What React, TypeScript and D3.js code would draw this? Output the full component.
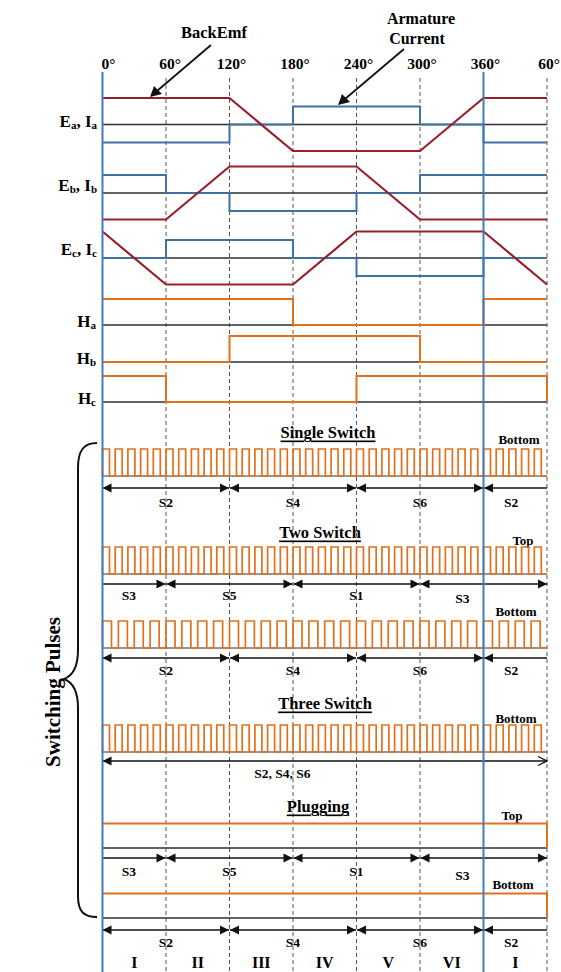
import * as d3 from "d3";

// angle axis
const degreeTicks = [0, 60, 120, 180, 240, 300, 360, 420];
const degreeLabels = ["0°", "60°", "120°", "180°", "240°", "300°", "360°", "60°"];
const solidAngles = [0, 360];
const dashedAngles = [60, 120, 180, 240, 300, 420];

// back emf (trapezoid) and armature current (quasi-square), per phase
const emfA: [number, number][] = [[0, 1], [120, 1], [180, -1], [300, -1], [360, 1], [420, 1]];
const curA: [number, number][] = [[0, -1], [120, -1], [120, 0], [180, 0], [180, 1], [300, 1], [300, 0], [360, 0], [360, -1], [420, -1]];
const emfB: [number, number][] = [[0, -1], [60, -1], [120, 1], [240, 1], [300, -1], [420, -1]];
const curB: [number, number][] = [[0, 1], [60, 1], [60, 0], [120, 0], [120, -1], [240, -1], [240, 0], [300, 0], [300, 1], [420, 1]];
const emfC: [number, number][] = [[0, 1], [60, -1], [180, -1], [240, 1], [360, 1], [420, -1]];
const curC: [number, number][] = [[0, 0], [60, 0], [60, 1], [180, 1], [180, 0], [240, 0], [240, -1], [360, -1], [360, 0], [420, 0]];

// hall sensors
const hallA: [number, number][] = [[0, 1], [180, 1], [180, 0], [360, 0], [360, 1], [420, 1]];
const hallB: [number, number][] = [[0, 0], [120, 0], [120, 1], [300, 1], [300, 0], [420, 0]];
const hallC: [number, number][] = [[0, 1], [60, 1], [60, 0], [240, 0], [240, 1], [420, 1], [420, 0]];

// plugging (constant on)
const plugTop: [number, number][] = [[0, 1], [420, 1], [420, 0]];
const plugBottom: [number, number][] = [[0, 1], [420, 1], [420, 0]];

// pwm rising edges (deg)
const pulseRise12 = [0, 12, 24, 36, 48, 60, 72, 84, 96, 108, 120, 132, 144, 156, 168, 180, 192, 204, 216, 228, 240, 252, 264, 276, 288, 300, 312, 324, 336, 348, 360, 372, 384, 396, 408];
const pulseRise15 = [0, 15, 30, 45, 60, 75, 90, 105, 120, 135, 150, 165, 180, 195, 210, 225, 240, 255, 270, 285, 300, 315, 330, 345, 360, 375, 390, 405];

// switch sequences
const seqBottom = [
  { from: 0, to: 120, label: "S2", at: 60 },
  { from: 120, to: 240, label: "S4", at: 180 },
  { from: 240, to: 360, label: "S6", at: 300 },
  { from: 360, to: 420, label: "S2", at: 386 },
];
const seqTop = [
  { from: 0, to: 60, label: "S3", at: 25 },
  { from: 60, to: 180, label: "S5", at: 120 },
  { from: 180, to: 300, label: "S1", at: 240 },
  { from: 300, to: 420, label: "S3", at: 340 },
];
const seqAll = [{ from: 0, to: 420, label: "S2, S4, S6", at: 170 }];

const sectors = ["I", "II", "III", "IV", "V", "VI", "I"];
const sectorCenters = [30, 90, 150, 210, 270, 330, 390];

const x = d3.scaleLinear().domain([0, 420]).range([102.5, 547]);

const RED = "#98202a";
const BLUE = "#41729f";
const ORANGE = "#e2701c";
const FONT = "'Liberation Serif', 'Times New Roman', serif";

function stepPath(pts: [number, number][], base: number, amp: number, low = -1) {
  const y = d3.scaleLinear().domain([low, 1]).range([low === 0 ? base : base + amp, base - amp]);
  return d3.line<[number, number]>().x((d) => x(d[0])).y((d) => y(d[1]))(pts) || "";
}

function pulsePoints(rises: number[], width: number): [number, number][] {
  const pts: [number, number][] = [];
  rises.forEach((r) => {
    pts.push([r, 0], [r, 1], [r + width, 1], [r + width, 0]);
  });
  pts.push([420, 0]);
  return pts;
}

function Head({ px, py, dir, open }: { px: number; py: number; dir: number; open?: boolean }) {
  const pts = `${px - dir * 9},${py - 4.5} ${px},${py} ${px - dir * 9},${py + 4.5}`;
  return open ? (
    <polyline points={pts} fill="none" stroke="#111" strokeWidth={1.3} />
  ) : (
    <polygon points={pts} fill="#111" />
  );
}

function ArrowRow({
  segs, y, ly, startHead, endHead, openEnd,
}: {
  segs: { from: number; to: number; label: string; at: number }[];
  y: number; ly: number[] | number; startHead: boolean; endHead: boolean; openEnd?: boolean;
}) {
  return (
    <g>
      {segs.map((s, i) => {
        const x0 = x(s.from) + (i === 0 ? 0 : 0.5);
        const x1 = x(s.to) - (i === segs.length - 1 ? 0 : 0.5);
        const leftHead = i > 0 || startHead;
        const rightHead = i < segs.length - 1 || endHead;
        const labY = Array.isArray(ly) ? ly[i] : ly;
        return (
          <g key={i}>
            <line x1={x0} x2={x1} y1={y} y2={y} stroke="#111" strokeWidth={1.4} />
            {leftHead && <Head px={x0} py={y} dir={-1} />}
            {rightHead && <Head px={x1} py={y} dir={1} open={openEnd && i === segs.length - 1} />}
            <text x={x(s.at)} y={labY} textAnchor="middle" dominantBaseline="central" fontSize={13.5} fontWeight="bold">
              {s.label}
            </text>
          </g>
        );
      })}
    </g>
  );
}

export default function App() {
  const eRows = [
    { sub: "a", base: 124.5, emf: emfA, cur: curA, ly: 121 },
    { sub: "b", base: 193, emf: emfB, cur: curB, ly: 185 },
    { sub: "c", base: 258, emf: emfC, cur: curC, ly: 249 },
  ];
  const hRows = [
    { sub: "a", base: 325, data: hallA, ly: 321 },
    { sub: "b", base: 362, data: hallB, ly: 358 },
    { sub: "c", base: 402, data: hallC, ly: 398 },
  ];
  const trains = [
    { base: 476, rises: pulseRise12, w: 6.6 },
    { base: 574, rises: pulseRise12, w: 6.6 },
    { base: 648, rises: pulseRise15, w: 8.5 },
    { base: 752, rises: pulseRise12, w: 6.6 },
  ];
  const plugs = [
    { base: 848, data: plugTop },
    { base: 918, data: plugBottom },
  ];

  return (
    <svg
      width={561}
      height={972}
      viewBox="0 0 561 972"
      style={{ position: "absolute", left: 0, top: 0, background: "#fff" }}
      fontFamily={FONT}
    >
      {/* header annotations */}
      <text x={214} y={32} textAnchor="middle" dominantBaseline="central" fontSize={16.5} fontWeight="bold">BackEmf</text>
      <text x={421} y={18} textAnchor="middle" dominantBaseline="central" fontSize={16} fontWeight="bold">Armature</text>
      <text x={417} y={38} textAnchor="middle" dominantBaseline="central" fontSize={16} fontWeight="bold">Current</text>
      <line x1={211} y1={45} x2={157} y2={91} stroke="#111" strokeWidth={1.8} />
      <polygon points="150,97 154,86 162,94" fill="#111" />
      <line x1={404} y1={49} x2={345} y2={99} stroke="#111" strokeWidth={1.8} />
      <polygon points="338,105 342,94 350,102" fill="#111" />

      {degreeTicks.map((d, i) => (
        <text key={d} x={x(d) + (i === 0 ? 6 : i === 1 ? 4 : 2)} y={63} textAnchor="middle" dominantBaseline="central" fontSize={15.5} fontWeight="bold">
          {degreeLabels[i]}
        </text>
      ))}

      {/* grid */}
      {dashedAngles.map((d) => (
        <line key={d} x1={x(d)} x2={x(d)} y1={78} y2={972} stroke="#555" strokeWidth={1} strokeDasharray="4 3" />
      ))}

      {/* back emf / current rows */}
      {eRows.map((r) => (
        <g key={r.sub}>
          <line x1={x(0)} x2={x(420)} y1={r.base} y2={r.base} stroke="#2a2f38" strokeWidth={1.5} />
          <path d={stepPath(r.cur, r.base, 18)} fill="none" stroke={BLUE} strokeWidth={2} />
          <path d={stepPath(r.emf, r.base, 26.5)} fill="none" stroke={RED} strokeWidth={2.2} />
          <text x={97} y={r.ly} textAnchor="end" fontSize={17} fontWeight="bold" dominantBaseline="central">
            E<tspan dy={4} fontSize={11}>{r.sub}</tspan>
            <tspan dy={-4}>, I</tspan>
            <tspan dy={4} fontSize={11}>{r.sub}</tspan>
          </text>
        </g>
      ))}

      {/* hall rows */}
      {hRows.map((r) => (
        <g key={r.sub}>
          <line x1={x(0)} x2={x(420)} y1={r.base} y2={r.base} stroke="#2a2f38" strokeWidth={1.5} />
          <path d={stepPath(r.data, r.base, 26, 0)} fill="none" stroke={ORANGE} strokeWidth={2} />
          <text x={96} y={r.ly} textAnchor="end" fontSize={17} fontWeight="bold" dominantBaseline="central">
            H<tspan dy={4} fontSize={11}>{r.sub}</tspan>
          </text>
        </g>
      ))}

      {/* switching pulses */}
      <text x={328} y={432} textAnchor="middle" dominantBaseline="central" fontSize={16.5} fontWeight="bold" textDecoration="underline">Single Switch</text>
      <text x={320} y={532} textAnchor="middle" dominantBaseline="central" fontSize={16.5} fontWeight="bold" textDecoration="underline">Two Switch</text>
      <text x={325} y={703} textAnchor="middle" dominantBaseline="central" fontSize={16.5} fontWeight="bold" textDecoration="underline">Three Switch</text>
      <text x={318} y={806} textAnchor="middle" dominantBaseline="central" fontSize={16.5} fontWeight="bold" textDecoration="underline">Plugging</text>

      <text x={519} y={439} textAnchor="middle" dominantBaseline="central" fontSize={13} fontWeight="bold">Bottom</text>
      <text x={523} y={540} textAnchor="middle" dominantBaseline="central" fontSize={13} fontWeight="bold">Top</text>
      <text x={516} y={611} textAnchor="middle" dominantBaseline="central" fontSize={13} fontWeight="bold">Bottom</text>
      <text x={516} y={718} textAnchor="middle" dominantBaseline="central" fontSize={13} fontWeight="bold">Bottom</text>
      <text x={512} y={815} textAnchor="middle" dominantBaseline="central" fontSize={13} fontWeight="bold">Top</text>
      <text x={513} y={884} textAnchor="middle" dominantBaseline="central" fontSize={13} fontWeight="bold">Bottom</text>

      {trains.map((t, i) => (
        <g key={i}>
          <line x1={x(0)} x2={x(420)} y1={t.base} y2={t.base} stroke="#2a2f38" strokeWidth={1} />
          <path d={stepPath(pulsePoints(t.rises, t.w), t.base, 27, 0)} fill="none" stroke={ORANGE} strokeWidth={1.7} />
        </g>
      ))}

      {plugs.map((p, i) => (
        <g key={i}>
          <line x1={x(0)} x2={x(420)} y1={p.base} y2={p.base} stroke="#2a2f38" strokeWidth={1.5} />
          <path d={stepPath(p.data, p.base, 24.5, 0)} fill="none" stroke={ORANGE} strokeWidth={2} />
        </g>
      ))}

      <ArrowRow segs={seqBottom} y={488} ly={502} startHead endHead={false} />
      <ArrowRow segs={seqTop} y={584} ly={[595, 595, 595, 598]} startHead={false} endHead />
      <ArrowRow segs={seqBottom} y={658} ly={670} startHead endHead={false} />
      <ArrowRow segs={seqAll} y={761} ly={773} startHead endHead openEnd />
      <ArrowRow segs={seqTop} y={858} ly={[871, 871, 871, 875]} startHead={false} endHead />
      <ArrowRow segs={seqBottom} y={930} ly={942} startHead endHead={false} />

      {sectors.map((s, i) => (
        <text key={i} x={x(sectorCenters[i])} y={962} textAnchor="middle" dominantBaseline="central" fontSize={16} fontWeight="bold">
          {s}
        </text>
      ))}

      {/* brace + label */}
      <path
        d="M97,443 C84,443 78,450 78,468 L78,650 C78,668 72,676 64,679 C72,682 78,690 78,708 L78,896 C78,912 84,917 97,917"
        fill="none"
        stroke="#111"
        strokeWidth={2}
      />
      <text
        transform="translate(53,692) rotate(-90)"
        textAnchor="middle"
        dominantBaseline="central"
        fontSize={21}
        fontWeight="bold"
      >
        Switching Pulses
      </text>

      {/* phase reference lines */}
      {solidAngles.map((d) => (
        <line key={d} x1={x(d)} x2={x(d)} y1={72} y2={972} stroke="#3f7cc0" strokeWidth={2} />
      ))}
    </svg>
  );
}
